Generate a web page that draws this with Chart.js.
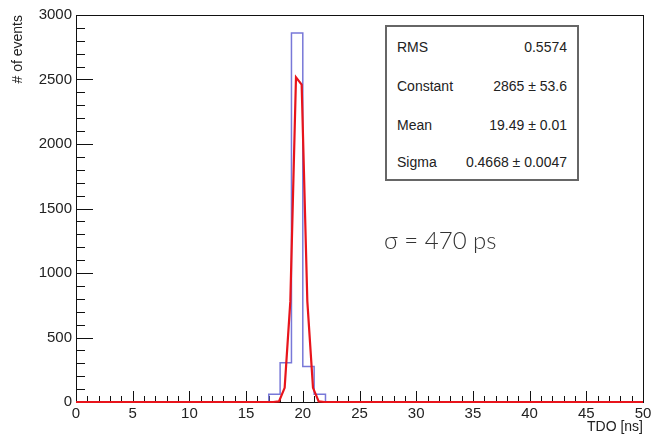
<!DOCTYPE html>
<html>
<head>
<meta charset="utf-8">
<script src="https://cdn.jsdelivr.net/npm/chart.js@4.4.0/dist/chart.umd.min.js"></script>
<style>
  body { margin: 0; background: #fff; }
  #wrap { position: relative; width: 656px; height: 437px; }
  #stats {
    position: absolute; left: 385px; top: 25px; width: 190px; height: 152px;
    border: 2px solid #666; background: #fff;
    font-family: "Liberation Sans", Arial, sans-serif; font-size: 14px; color: #222;
  }
  .row { position: absolute; left: 10px; right: 10px; height: 16px; line-height: 16px; }
  .row .k { position: absolute; left: 0; }
  .row .v { position: absolute; right: 0; }
  #sigma {
    position: absolute; left: 384px; top: 225px;
    font-family: Lato, "Open Sans", sans-serif; font-weight: 300; font-size: 24px; color: #333;
  }
</style>
</head>
<body>
<div id="wrap">
  <canvas id="chart" width="656" height="437"></canvas>
  <div id="stats"></div>
  <div id="sigma">σ = 470 ps</div>
</div>
<script>
// histogram bins (left edges) and counts
var binEdges = [17, 18, 19, 20, 21, 22];
var binCounts = [60, 305, 2860, 275, 60];

// fitted gaussian as drawn
var fitX = [0, 17.4, 17.9, 18.4, 18.9, 19.4, 19.9, 20.4, 20.9, 21.4, 21.9, 50];
var fitY = [0, 0, 5, 110, 780, 2517, 2460, 780, 110, 5, 0, 0];

var xTicks = [0, 5, 10, 15, 20, 25, 30, 35, 40, 45, 50];
var yTicks = [0, 500, 1000, 1500, 2000, 2500, 3000];

var statNames = ['RMS', 'Constant', 'Mean', 'Sigma'];
var statValues = ['0.5574', '2865 ± 53.6', '19.49 ± 0.01', '0.4668 ± 0.0047'];

var statsBox = document.getElementById('stats');
var rowTops = [12, 51, 90, 127];
for (var i = 0; i < statNames.length; i++) {
    var r = document.createElement('div');
    r.className = 'row';
    r.style.top = rowTops[i] + 'px';
    r.innerHTML = '<span class="k">' + statNames[i] + '</span><span class="v">' + statValues[i] + '</span>';
    statsBox.appendChild(r);
}

var histPts = [{x: 0, y: 0}];
for (var i = 0; i < binCounts.length; i++) {
    histPts.push({x: binEdges[i], y: binCounts[i]});
}
histPts.push({x: binEdges[binEdges.length - 1], y: 0});
histPts.push({x: 50, y: 0});

var fitPts = fitX.map(function(x, i) { return {x: x, y: fitY[i]}; });

// ROOT style frame with inward ticks, drawn under the data
var frameTicks = {
    id: 'frameTicks',
    beforeDatasetsDraw: function(chart) {
        var ctx = chart.ctx, a = chart.chartArea;
        var xs = chart.scales.x, ys = chart.scales.y;
        ctx.save();
        ctx.strokeStyle = '#111';
        ctx.lineWidth = 1;
        ctx.strokeRect(a.left + 0.5, a.top + 0.5, a.right - a.left, a.bottom - a.top);
        ctx.beginPath();
        for (var v = 0; v <= 50; v++) {
            var px = Math.round(xs.getPixelForValue(v)) + 0.5;
            var len = (v % 5 === 0) ? 11 : 6;
            ctx.moveTo(px, a.bottom);
            ctx.lineTo(px, a.bottom - len);
        }
        for (var v = 0; v <= 3000; v += 100) {
            var py = Math.round(ys.getPixelForValue(v)) + 0.5;
            var len = (v % 500 === 0) ? 17 : 9;
            ctx.moveTo(a.left, py);
            ctx.lineTo(a.left + len, py);
        }
        ctx.stroke();
        ctx.restore();
    }
};

var tickFont = {family: '"Liberation Sans", Arial, sans-serif', size: 15};
var plain = function(v) { return String(v); };

new Chart(document.getElementById('chart').getContext('2d'), {
    type: 'line',
    data: {
        datasets: [{
            data: fitPts,
            borderColor: '#e8141b',
            borderWidth: 2.2,
            pointRadius: 0,
            tension: 0,
            clip: 4,
            order: 0
        }, {
            data: histPts,
            borderColor: '#7878d8',
            borderWidth: 1.5,
            pointRadius: 0,
            stepped: 'before',
            clip: 4,
            order: 1
        }]
    },
    options: {
        responsive: false,
        animation: false,
        layout: {padding: {left: 0, right: 13, top: 15, bottom: 0}},
        plugins: {legend: {display: false}, tooltip: {enabled: false}},
        scales: {
            x: {
                type: 'linear',
                min: 0, max: 50,
                grid: {display: false, drawTicks: false},
                border: {display: false},
                afterBuildTicks: function(s) { s.ticks = xTicks.map(function(v) { return {value: v}; }); },
                ticks: {font: tickFont, color: '#222', padding: 3, maxRotation: 0, callback: plain},
                title: {display: true, text: 'TDO [ns]', align: 'end', color: '#222',
                        font: {family: '"Liberation Sans", Arial, sans-serif', size: 14},
                        padding: {top: 0, bottom: 1}},
                afterFit: function(s) { s.height = 35; }
            },
            y: {
                min: 0, max: 3000,
                grid: {display: false, drawTicks: false},
                border: {display: false},
                afterBuildTicks: function(s) { s.ticks = yTicks.map(function(v) { return {value: v}; }); },
                ticks: {font: tickFont, color: '#222', padding: 4, callback: plain},
                title: {display: true, text: '# of events', align: 'end', color: '#222',
                        font: {family: '"Liberation Sans", Arial, sans-serif', size: 14},
                        padding: {top: 10, bottom: 0}},
                afterFit: function(s) { s.width = 76; }
            }
        }
    },
    plugins: [frameTicks]
});
</script>
</body>
</html>
